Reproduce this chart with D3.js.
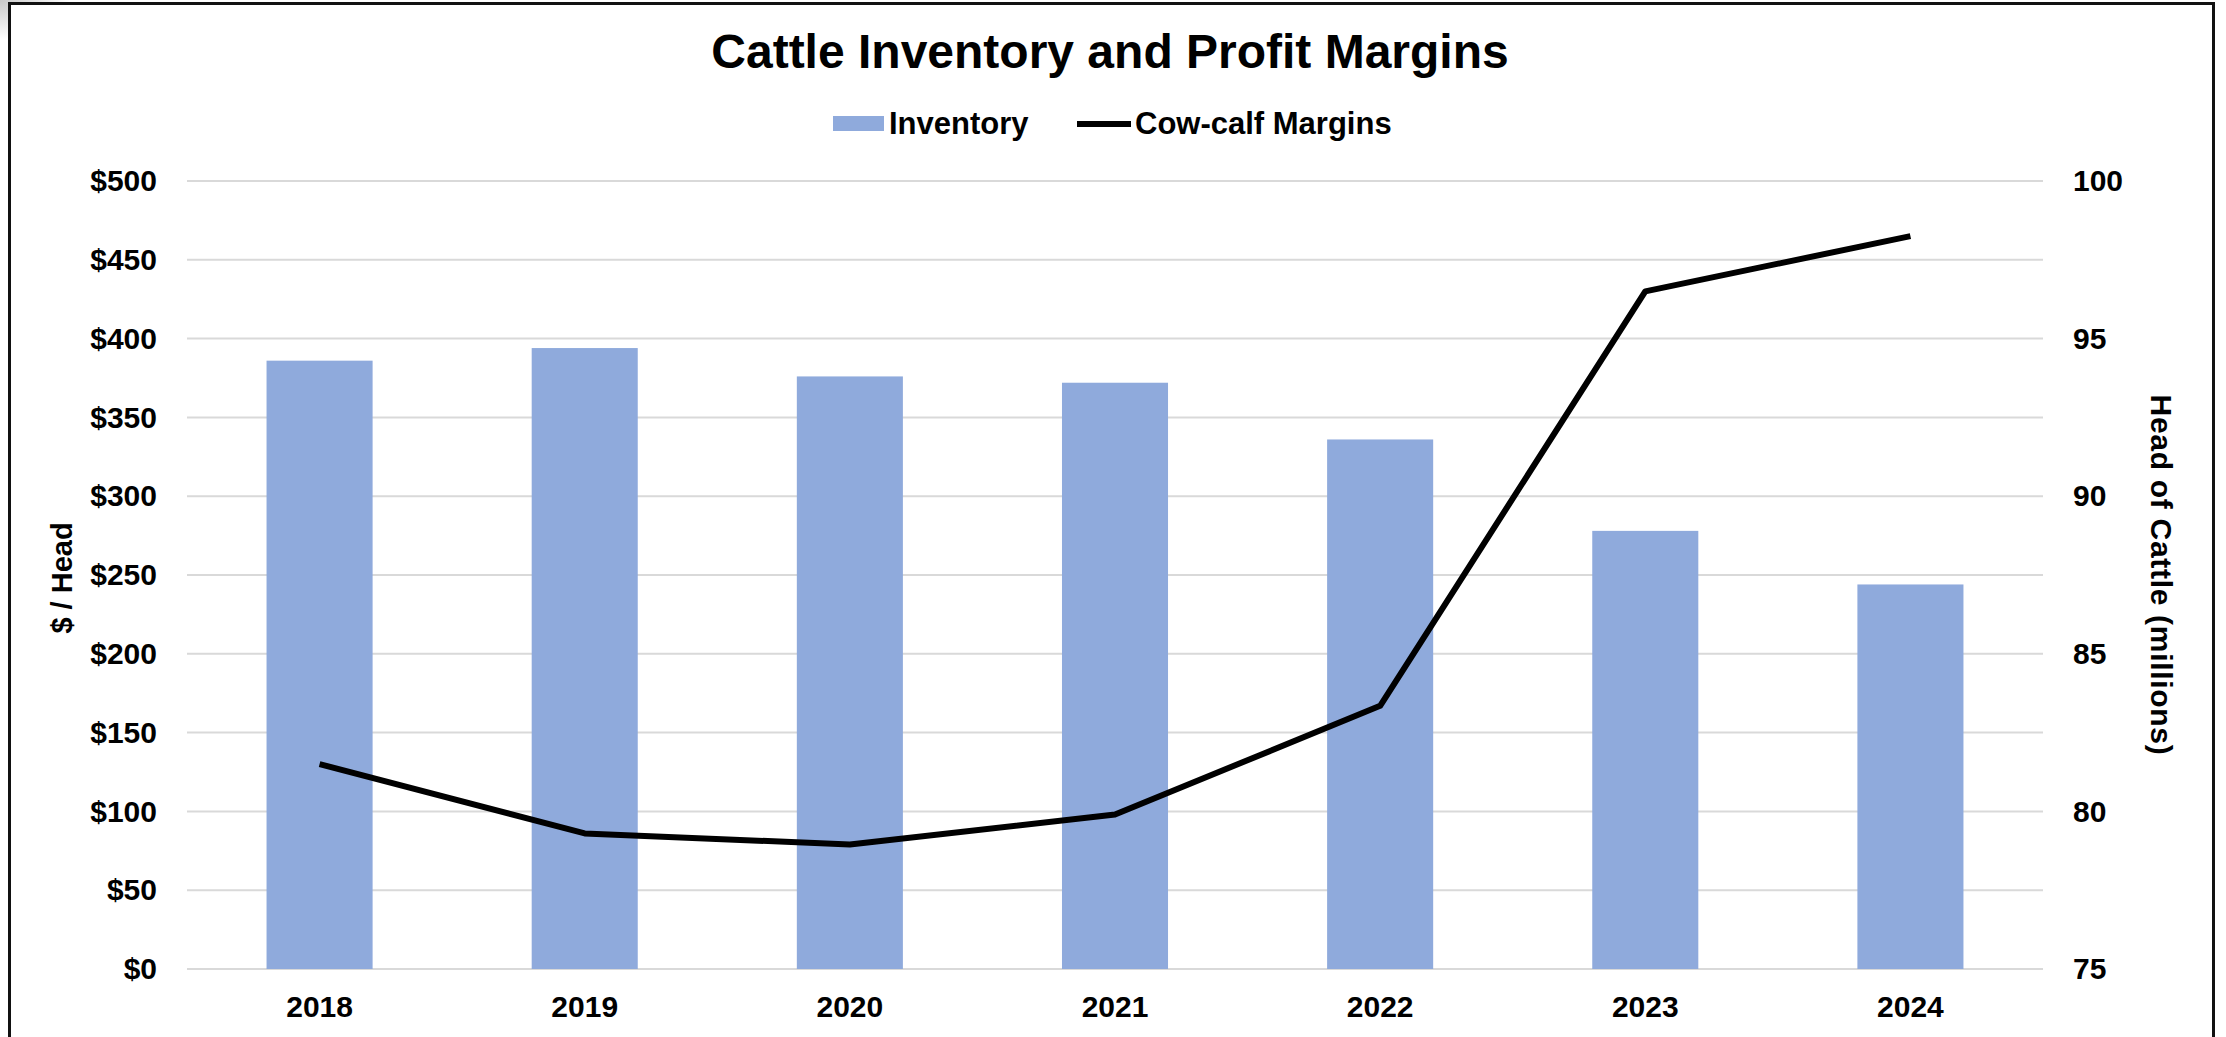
<!DOCTYPE html>
<html>
<head>
<meta charset="utf-8">
<script src="https://cdn.jsdelivr.net/npm/d3@7"></script>
<style>
  body { margin: 0; background: #fff; }
  svg text { font-family: "Liberation Sans", Arial, sans-serif; font-weight: bold; fill: #000; }
</style>
</head>
<body>
<script>
'use strict';

// chart data
const years = ["2018", "2019", "2020", "2021", "2022", "2023", "2024"];
const inventory = [94.3, 94.7, 93.8, 93.6, 91.8, 88.9, 87.2]; // head of cattle, millions
const margins = [130, 86, 79, 98, 167, 430, 465]; // cow-calf margins, $ / head
const dollarTicks = [0, 50, 100, 150, 200, 250, 300, 350, 400, 450, 500];
const headTicks = [75, 80, 85, 90, 95, 100];

(function() {

  let svg = ""; // keep SVG reference in global scope
  const plot = {left: 187, right: 2043, top: 181, bottom: 969};

  window.onload = function() {
    svg = d3.select('body')
      .append('svg')
      .attr('width', 2226)
      .attr('height', 1037);

    drawFrame();
    let scales = makeScales();
    drawGrid(scales);
    plotBars(scales);
    plotLine(scales);
    drawAxes(scales);
    makeLabels();
    makeLegend();
  }

  function makeScales() {
    let x = d3.scaleBand()
      .domain(years)
      .range([plot.left, plot.right])
      .paddingInner(0.6)
      .paddingOuter(0.3);

    let yDollar = d3.scaleLinear()
      .domain([0, 500])
      .range([plot.bottom, plot.top]);

    let yHead = d3.scaleLinear()
      .domain([75, 100])
      .range([plot.bottom, plot.top]);

    return {x: x, yDollar: yDollar, yHead: yHead};
  }

  // screenshot style border round the chart
  function drawFrame() {
    let defs = svg.append('defs');
    let grad = defs.append('radialGradient')
      .attr('id', 'corner')
      .attr('cx', 0).attr('cy', 0).attr('r', 1);
    grad.append('stop').attr('offset', '0%').attr('stop-color', '#c8c8c8');
    grad.append('stop').attr('offset', '100%').attr('stop-color', '#fff');

    svg.append('rect')
      .attr('x', 0).attr('y', 0)
      .attr('width', 70).attr('height', 40)
      .attr('fill', 'url(#corner)');

    svg.append('rect')
      .attr('x', 9.5).attr('y', 3.5)
      .attr('width', 2204).attr('height', 1060)
      .attr('fill', '#fff')
      .attr('stroke', '#111')
      .attr('stroke-width', 3);
  }

  function drawGrid(s) {
    svg.append('g')
      .selectAll('line')
      .data(dollarTicks)
      .enter()
      .append('line')
        .attr('x1', plot.left)
        .attr('x2', plot.right)
        .attr('y1', (d) => s.yDollar(d))
        .attr('y2', (d) => s.yDollar(d))
        .attr('stroke', '#d9d9d9')
        .attr('stroke-width', 2);
  }

  function plotBars(s) {
    svg.append('g')
      .selectAll('rect')
      .data(inventory)
      .enter()
      .append('rect')
        .attr('x', (d, i) => s.x(years[i]))
        .attr('y', (d) => s.yHead(d))
        .attr('width', s.x.bandwidth())
        .attr('height', (d) => plot.bottom - s.yHead(d))
        .attr('fill', '#8faadc');
  }

  function plotLine(s) {
    let line = d3.line()
      .x((d, i) => s.x(years[i]) + s.x.bandwidth() / 2)
      .y((d) => s.yDollar(d));

    svg.append('path')
      .datum(margins)
      .attr('fill', 'none')
      .attr('stroke', '#000')
      .attr('stroke-width', 6)
      .attr('stroke-linejoin', 'round')
      .attr('d', line);
  }

  // draw the tick labels on three sides
  function drawAxes(s) {
    let left = svg.append('g')
      .attr('transform', 'translate(' + plot.left + ', 0)')
      .call(d3.axisLeft(s.yDollar)
        .tickValues(dollarTicks)
        .tickSize(0)
        .tickPadding(30)
        .tickFormat((d) => '$' + d));

    let right = svg.append('g')
      .attr('transform', 'translate(' + plot.right + ', 0)')
      .call(d3.axisRight(s.yHead)
        .tickValues(headTicks)
        .tickSize(0)
        .tickPadding(30));

    let bottom = svg.append('g')
      .attr('transform', 'translate(0, ' + plot.bottom + ')')
      .call(d3.axisBottom(s.x)
        .tickSize(0)
        .tickPadding(27));

    [left, right, bottom].forEach((g) => {
      g.select('.domain').remove();
      g.selectAll('text').style('font-size', '30px');
    });
  }

  // make title and axes labels
  function makeLabels() {
    svg.append('text')
      .attr('x', 1110)
      .attr('y', 68)
      .attr('text-anchor', 'middle')
      .style('font-size', '48px')
      .text('Cattle Inventory and Profit Margins');

    svg.append('text')
      .attr('transform', 'translate(72, 578)rotate(-90)')
      .attr('text-anchor', 'middle')
      .style('font-size', '29px')
      .text('$ / Head');

    svg.append('text')
      .attr('transform', 'translate(2151, 575)rotate(90)')
      .attr('text-anchor', 'middle')
      .style('font-size', '30px')
      .style('letter-spacing', '0.7px')
      .text('Head of Cattle (millions)');
  }

  function makeLegend() {
    let legend = svg.append('g');

    legend.append('rect')
      .attr('x', 833)
      .attr('y', 116)
      .attr('width', 51)
      .attr('height', 15)
      .attr('fill', '#8faadc');

    legend.append('text')
      .attr('x', 889)
      .attr('y', 134)
      .style('font-size', '31px')
      .text('Inventory');

    legend.append('line')
      .attr('x1', 1077)
      .attr('x2', 1131)
      .attr('y1', 124)
      .attr('y2', 124)
      .attr('stroke', '#000')
      .attr('stroke-width', 6);

    legend.append('text')
      .attr('x', 1135)
      .attr('y', 134)
      .style('font-size', '31px')
      .text('Cow-calf Margins');
  }

})();
</script>
</body>
</html>
